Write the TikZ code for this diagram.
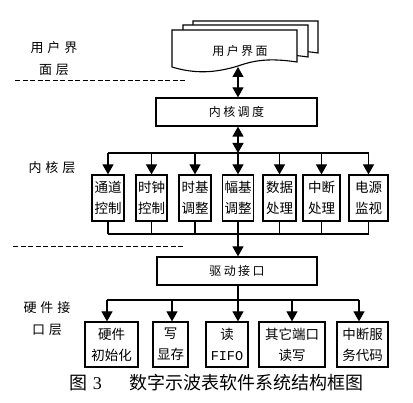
\documentclass[tikz,border=0pt]{standalone}
\usepackage{fontspec}
\setmainfont{Noto Sans CJK SC}
\newfontfamily\spc[LetterSpace=20]{Noto Sans CJK SC}
\newfontfamily\lbl[LetterSpace=30]{Noto Sans CJK SC}
\newfontfamily\mono{Liberation Mono}
\newfontfamily\serifnum{Liberation Serif}
\usetikzlibrary{arrows.meta}
\begin{document}
\begin{tikzpicture}[x=1pt,y=-1pt,line width=1.2pt,
  box/.style={draw,line width=1.2pt,inner sep=0pt,align=center,font=\fontsize{13.5}{21}\selectfont},
  wide/.style={draw,line width=1.2pt,inner sep=0pt,font=\spc\fontsize{12}{14}\selectfont},
  arr/.style={-{Triangle[width=11pt,length=10pt]}},
  dbl/.style={{Triangle[width=11pt,length=10pt]}-{Triangle[width=11pt,length=10pt]}},
  layer/.style={align=center,font=\lbl\fontsize{13}{22}\selectfont},
  sep/.style={dash pattern=on 5pt off 2.5pt,line width=1pt}]
\useasboundingbox (0,0) rectangle (413,403);
% document stack
\foreach \dx/\dy in {21/-9,11/-5,0/0}
  \draw[fill=white,line width=1.1pt,shift={(\dx,\dy)}] (172,30) -- (297,30) -- (297,62)
    .. controls (270,58) and (255,60) .. (238,66)
    .. controls (215,73) and (195,74) .. (172,67) -- cycle;
\node[font=\spc\fontsize{12}{14}\selectfont] (ui) at (240,51) {用户界面};
\coordinate (uib) at (238,67);
% layer labels and separators
\node[layer] (L1) at (54,59) {用户界\\面层};
\node[layer] (L2) at (52,168) {内核层};
\node[layer] (L3) at (47,319) {硬件接\\口层};
\coordinate (s1a) at (15,81); \coordinate (s1b) at (185,81);
\coordinate (s2a) at (13,247); \coordinate (s2b) at (185,247);
\draw[sep] (s1a) -- (s1b);
\draw[sep] (s2a) -- (s2b);
% kernel
\node[wide,minimum width=161pt,minimum height=28pt] (kern) at (236.5,112) {内核调度};
\draw[dbl] (uib) -- (uib |- kern.north);
\node[box,minimum width=32pt,minimum height=46pt] (k1) at (108,198) {通道\\控制};
\node[box,minimum width=31pt,minimum height=46pt] (k2) at (151.5,198) {时钟\\控制};
\node[box,minimum width=32pt,minimum height=46pt] (k3) at (195,198) {时基\\调整};
\node[box,minimum width=31pt,minimum height=46pt] (k4) at (238,198) {幅基\\调整};
\node[box,minimum width=33pt,minimum height=46pt] (k5) at (279.5,198) {数据\\处理};
\node[box,minimum width=37pt,minimum height=46pt] (k6) at (321.5,198) {中断\\处理};
\node[box,minimum width=39pt,minimum height=46pt] (k7) at (368.5,198) {电源\\监视};
\coordinate (kbus) at (238,153);
\coordinate (kbot) at (238,234);
\draw[dbl] (kbus |- kern.south) -- (kbus);
\draw (k1 |- kbus) -- (k7 |- kbus);
\foreach \i in {1,...,7} \draw[arr] (k\i |- kbus) -- (k\i.north);
\draw (k1 |- kbot) -- (k7 |- kbot);
\foreach \i in {1,2,3,5,6,7} \draw (k\i.south) -- (k\i |- kbot);
% driver
\node[wide,minimum width=160pt,minimum height=28pt] (drv) at (237,271) {驱动接口};
\draw[arr] (k4.south) -- (kbot |- drv.north);
% hardware
\node[box,minimum width=53pt,minimum height=45pt] (h1) at (111.5,344.5) {硬件\\初始化};
\node[box,minimum width=35pt,minimum height=45pt] (h2) at (170.5,344.5) {写\\显存};
\node[box,minimum width=42pt,minimum height=45pt] (h3) at (227,344.5) {读\\{\mono FIFO}};
\node[box,minimum width=66pt,minimum height=45pt] (h4) at (292,344.5) {其它端口\\读写};
\node[box,minimum width=51pt,minimum height=45pt] (h5) at (362.5,344.5) {中断服\\务代码};
\coordinate (hbus) at (238,300);
\coordinate (hb1) at (107,300);
\coordinate (hb2) at (172,300);
\coordinate (hb3) at (238,300);
\coordinate (hb4) at (292,300);
\coordinate (hb5) at (359,300);
\draw (hbus |- drv.south) -- (hbus);
\draw (hb1) -- (hb5);
\foreach \i in {1,...,5} \draw[arr] (hb\i) -- (hb\i |- h\i.north);
% caption
\node[font=\fontsize{18}{20}\selectfont,inner sep=0pt] (cap) at (216.5,383) {图\hspace{6pt}{\serifnum 3}\hspace{28pt}数字示波表软件系统结构框图};
\end{tikzpicture}
\end{document}
